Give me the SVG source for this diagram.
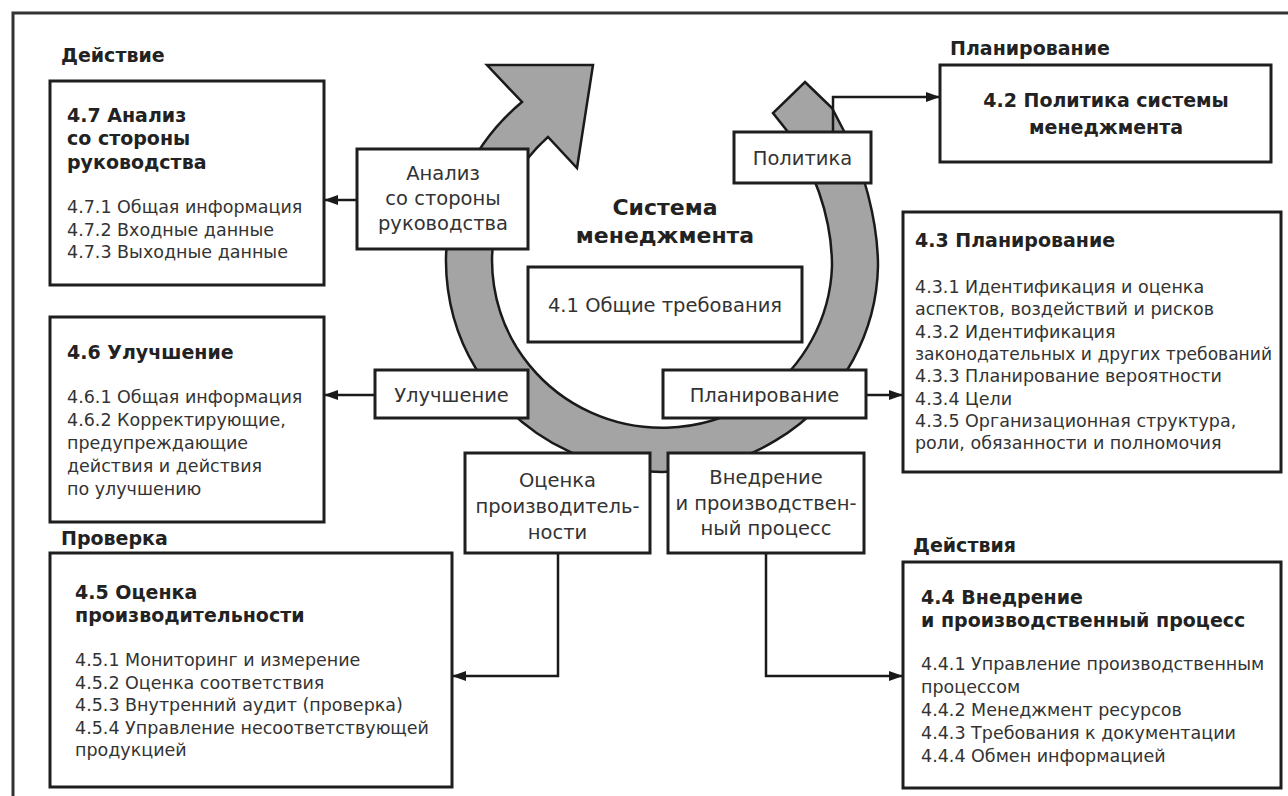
<svg xmlns="http://www.w3.org/2000/svg" width="1288" height="796" viewBox="0 0 1288 796">
<defs>
<marker id="ah" markerUnits="userSpaceOnUse" markerWidth="14" markerHeight="12" refX="13" refY="6" orient="auto">
<path d="M0,1 L14,6 L0,11 Z" fill="#1a1a1a"/>
</marker>
<style>
.box{fill:#fff;stroke:#1e1e1e;stroke-width:3}
.con{fill:none;stroke:#1a1a1a;stroke-width:2.5;marker-end:url(#ah)}
text{font-family:"DejaVu Sans","Liberation Sans",sans-serif;fill:#222}
.b{font-weight:bold;font-size:19px}
.i{font-size:17.5px;fill:#333}
.l{font-size:19.5px;text-anchor:middle;fill:#333}
.c{text-anchor:middle}
</style>
</defs>
<rect width="1288" height="796" fill="#fff"/>
<rect x="13" y="13" width="1300" height="820" fill="none" stroke="#333" stroke-width="3"/>

<g id="ring">
<path d="M805,82 L832,108 L846,135 C862,165 878,220 878,266 A216,210 0 1 1 522,102 L487,65 L593,65 L577,168 L548,137 A170,167 0 1 0 832,266 C832,215 812,165 788,132 L773,113 Z" fill="#a4a4a4" stroke="#1a1a1a" stroke-width="2.5" stroke-linejoin="miter"/>
</g>

<g id="connectors">
<path class="con" d="M357,200 H325"/>
<path class="con" d="M375,395 H325"/>
<path class="con" d="M558,553 V676 H453"/>
<path class="con" d="M766,553 V676 H902"/>
<path class="con" d="M866,395 H902"/>
<path class="con" d="M833,132 V97 H939"/>
</g>

<g id="labels">
<text class="b" x="61" y="62">Действие</text>
<text class="b" x="950" y="55">Планирование</text>
<text class="b" x="61" y="545">Проверка</text>
<text class="b" x="913" y="552">Действия</text>
</g>

<g id="system-title">
<text class="b c" x="665" y="215" style="font-size:22px">Система</text>
<text class="b c" x="665" y="243" style="font-size:22px">менеджмента</text>
</g>

<g id="n47">
<rect class="box" x="50" y="81" width="274" height="204"/>
<text class="b" x="67" y="122">4.7 Анализ</text>
<text class="b" x="67" y="145">со стороны</text>
<text class="b" x="67" y="169">руководства</text>
<text class="i" x="67" y="213">4.7.1 Общая информация</text>
<text class="i" x="67" y="236">4.7.2 Входные данные</text>
<text class="i" x="67" y="258">4.7.3 Выходные данные</text>
</g>

<g id="n46">
<rect class="box" x="50" y="317" width="274" height="205"/>
<text class="b" x="67" y="359">4.6 Улучшение</text>
<text class="i" x="67" y="403">4.6.1 Общая информация</text>
<text class="i" x="67" y="426">4.6.2 Корректирующие,</text>
<text class="i" x="67" y="449">предупреждающие</text>
<text class="i" x="67" y="472">действия и действия</text>
<text class="i" x="67" y="495">по улучшению</text>
</g>

<g id="n45">
<rect class="box" x="50" y="553" width="402" height="234"/>
<text class="b" x="75" y="599">4.5 Оценка</text>
<text class="b" x="75" y="622">производительности</text>
<text class="i" x="75" y="666">4.5.1 Мониторинг и измерение</text>
<text class="i" x="75" y="689">4.5.2 Оценка соответствия</text>
<text class="i" x="75" y="711">4.5.3 Внутренний аудит (проверка)</text>
<text class="i" x="75" y="734">4.5.4 Управление несоответствующей</text>
<text class="i" x="75" y="756">продукцией</text>
</g>

<g id="n42">
<rect class="box" x="940" y="65" width="331" height="97"/>
<text class="b c" x="1106" y="107">4.2 Политика системы</text>
<text class="b c" x="1106" y="134">менеджмента</text>
</g>

<g id="n43">
<rect class="box" x="903" y="212" width="378" height="260"/>
<text class="b" x="915" y="247">4.3 Планирование</text>
<text class="i" x="915" y="293">4.3.1 Идентификация и оценка</text>
<text class="i" x="915" y="315">аспектов, воздействий и рисков</text>
<text class="i" x="915" y="338">4.3.2 Идентификация</text>
<text class="i" x="915" y="360" textLength="357" lengthAdjust="spacingAndGlyphs">законодательных и других требований</text>
<text class="i" x="915" y="382">4.3.3 Планирование вероятности</text>
<text class="i" x="915" y="405">4.3.4 Цели</text>
<text class="i" x="915" y="427">4.3.5 Организационная структура,</text>
<text class="i" x="915" y="449">роли, обязанности и полномочия</text>
</g>

<g id="n44">
<rect class="box" x="903" y="562" width="378" height="226"/>
<text class="b" x="921" y="604">4.4 Внедрение</text>
<text class="b" x="921" y="627">и производственный процесс</text>
<text class="i" x="921" y="670">4.4.1 Управление производственным</text>
<text class="i" x="921" y="693">процессом</text>
<text class="i" x="921" y="716">4.4.2 Менеджмент ресурсов</text>
<text class="i" x="921" y="739">4.4.3 Требования к документации</text>
<text class="i" x="921" y="762">4.4.4 Обмен информацией</text>
</g>

<g id="n41">
<rect class="box" x="528" y="267" width="274" height="75"/>
<text class="l" x="665" y="312">4.1 Общие требования</text>
</g>

<g id="s-analiz">
<rect class="box" x="357" y="149" width="171" height="100"/>
<text class="l" x="443" y="180">Анализ</text>
<text class="l" x="443" y="205">со стороны</text>
<text class="l" x="443" y="230">руководства</text>
</g>

<g id="s-uluch">
<rect class="box" x="375" y="370" width="153" height="48"/>
<text class="l" x="451.5" y="402">Улучшение</text>
</g>

<g id="s-plan">
<rect class="box" x="663" y="370" width="203" height="48"/>
<text class="l" x="764.5" y="402">Планирование</text>
</g>

<g id="s-polit">
<rect class="box" x="734" y="132" width="137" height="51"/>
<text class="l" x="802.5" y="165">Политика</text>
</g>

<g id="s-ocenka">
<rect class="box" x="465" y="453" width="185" height="100"/>
<text class="l" x="557.5" y="487">Оценка</text>
<text class="l" x="557.5" y="513">производитель-</text>
<text class="l" x="557.5" y="539">ности</text>
</g>

<g id="s-vnedr">
<rect class="box" x="668" y="453" width="196" height="100"/>
<text class="l" x="766" y="484">Внедрение</text>
<text class="l" x="766" y="510">и производствен-</text>
<text class="l" x="766" y="535">ный процесс</text>
</g>
</svg>
